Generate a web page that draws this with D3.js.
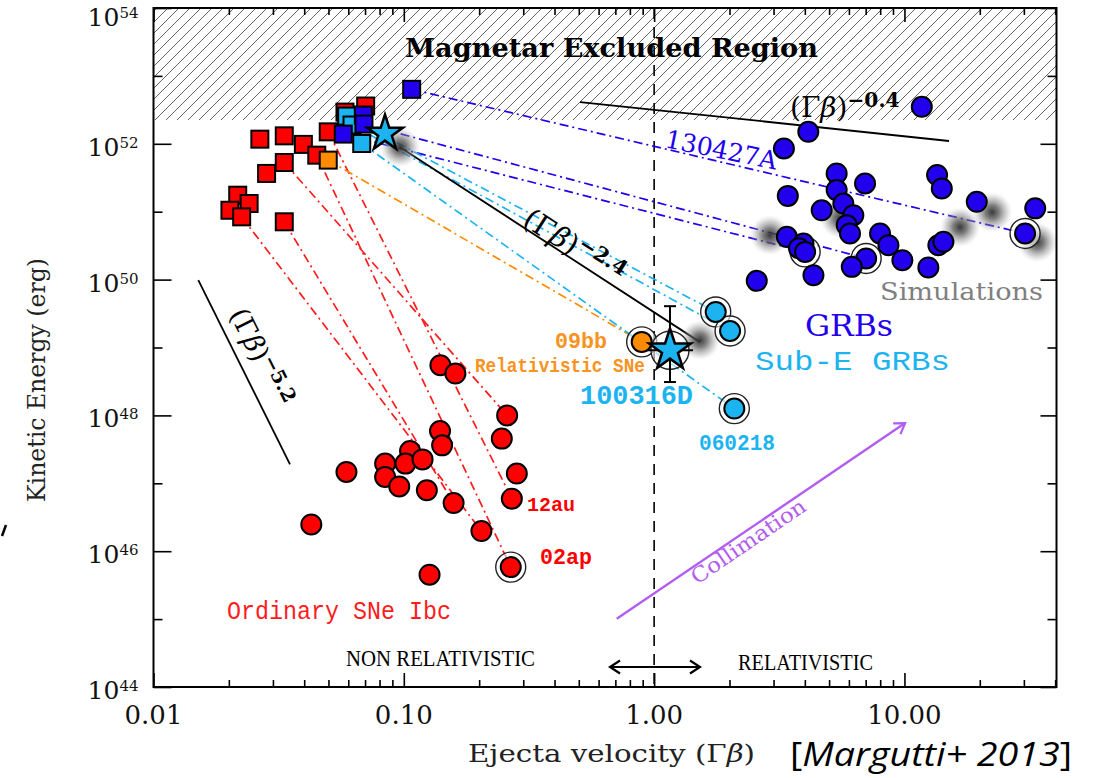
<!DOCTYPE html>
<html>
<head>
<meta charset="utf-8">
<title>Kinetic energy vs ejecta velocity</title>
<script src="https://cdnjs.cloudflare.com/ajax/libs/d3/7.8.5/d3.min.js"></script>
<style>
  html, body { margin: 0; padding: 0; background: #fff; }
  svg { display: block; }
</style>
</head>
<body>
<div id="main"></div>
<script>
//////////
// DATA //
//////////

// ordinary SNe Ibc : bulk ejecta (squares) and fastest ejecta (circles)
const sne_bulk_v = [0.0266, 0.0333, 0.0397, 0.0499, 0.0449, 0.0333, 0.0283, 0.0217, 0.0241, 0.0202, 0.0225, 0.0333, 0.0704, 0.0582]
const sne_bulk_e = [1.17e52, 1.31e52, 9.8e51, 1.50e52, 6.8e51, 5.3e51, 3.66e51, 1.75e51, 1.32e51, 1.05e51, 8.4e50, 7.1e50, 3.6e52, 2.93e52]
const sne_fast_v = [0.140, 0.1607, 0.2587, 0.1395, 0.1422, 0.2463, 0.1059, 0.1015, 0.1188, 0.0842, 0.0842, 0.0590, 0.0959, 0.1236, 0.2828, 0.2701, 0.1581, 0.2042, 0.2674, 0.0427, 0.1267]
const sne_fast_e = [5.48e48, 4.13e48, 1.0e48, 5.89e47, 3.62e47, 4.55e47, 2.99e47, 1.95e47, 2.25e47, 1.95e47, 1.24e47, 1.47e47, 9.0e46, 7.9e46, 1.39e47, 5.94e46, 5.12e46, 1.98e46, 5.83e45, 2.48e46, 4.51e45]
const sne_links  = [[10, 17], [11, 16], [4, 18], [3, 15], [5, 2]]
const sne_ringed = [18]

// relativistic SNe (09bb)
const rel_bulk_v = [0.0499]
const rel_bulk_e = [5.75e51]
const rel_fast_v = [0.892]
const rel_fast_e = [1.21e49]

// GRBs
const grb_bulk_v = [0.1075, 0.0689, 0.0693, 0.0573]
const grb_bulk_e = [6.34e52, 2.65e52, 1.95e52, 1.39e52]
const grb_fast_v = [11.73, 4.13, 3.30, 5.36, 6.96, 13.5, 14.1, 5.36, 3.42, 5.70, 6.25, 4.67, 19.45, 33.3, 5.88, 6.06, 3.39, 3.95, 3.79, 4.01, 7.99, 8.63, 9.81, 7.03, 6.16, 4.33, 2.57, 12.46, 13.66, 14.31, 30.33]
const grb_fast_e = [3.51e52, 1.50e52, 8.55e51, 3.66e51, 2.61e51, 3.46e51, 2.20e51, 2.08e51, 1.71e51, 1.32e51, 8.89e50, 1.05e51, 1.40e51, 1.12e51, 6.34e50, 4.78e50, 4.26e50, 3.40e50, 2.90e50, 2.56e50, 4.78e50, 3.21e50, 1.93e50, 2.05e50, 1.54e50, 1.16e50, 9.58e49, 1.51e50, 3.21e50, 3.60e50, 4.78e50]
const grb_links  = [[0, 30], [3, 19], [2, 23]]
const grb_ringed = [19, 23, 30]

// sub-energetic GRBs
const sub_bulk_v = [0.0591, 0.0621, 0.0679]
const sub_bulk_e = [2.56e52, 1.89e52, 1.01e52]
const sub_fast_v = [1.762, 2.011, 2.091]
const sub_fast_e = [3.34e49, 1.75e49, 1.26e48]
const sub_links  = [[0, 0], [1, 1], [2, 2]]

// 100316D
const star_v = [0.0841, 1.157]
const star_e = [1.42e52, 9.1e48]
const star_err_e = [3.10e48, 4.06e49]
const star_err_v = [0.937, 1.43]

// simulations
const sim_v = [0.0966, 1.525, 2.90, 5.53, 16.68, 22.4, 33.9]
const sim_e = [8.93e51, 1.28e49, 4.51e50, 8.04e50, 5.92e50, 9.84e50, 3.56e50]

// (Γβ)^n guide lines
const guide_index = ["−2.4", "−0.4", "−5.2"]
const guide_v = [[0.0966, 1.525], [0.506, 15.07], [0.0151, 0.0351]]
const guide_e = [[8.93e51, 1.2e49], [4.12e52, 1.1e52], [9.8e49, 1.9e47]]

// magnetar limit
const magnetar_e = 2.24e52

// ticks
const x_tick_labels = ["0.01", "0.10", "1.00", "10.00"]
const y_tick_exp = [44, 46, 48, 50, 52, 54]


///////////
// SETUP //
///////////

const _ = id => { return document.getElementById(id) }

const WIDTH = 1096
const HEIGHT = 778
const PLOT = { left: 153.5, right: 1056.5, top: 8, bottom: 687 }

const SERIF = '"DejaVu Serif", serif'
const MONO  = '"Liberation Mono", monospace'
const TIMES = '"Liberation Serif", serif'

const RED = "#ff0000"
const RED_LINE = "#ff1c1c"
const BLUE = "#2200ee"
const CYAN = "#1cb4f0"
const ORANGE = "#ff8c00"
const ORANGE_TEXT = "#f7931e"
const PURPLE = "#b35df0"

const SQ = 17
const R = 10

const x = d3.scaleLog().domain([0.01, 40.5]).range([PLOT.left, PLOT.right])
const y = d3.scaleLog().domain([1e44, 1e54]).range([PLOT.bottom, PLOT.top])

const svg = d3.select(_("main")).append("svg")
    .attr("width", WIDTH)
    .attr("height", HEIGHT)
    .attr("font-family", SERIF)

const defs = svg.append("defs")

defs.append("pattern")
    .attr("id", "hatch")
    .attr("patternUnits", "userSpaceOnUse")
    .attr("width", 11).attr("height", 11)
  .append("path")
    .attr("d", "M-2,2 L2,-2 M0,11 L11,0 M9,13 L13,9")
    .attr("stroke", "#666")
    .attr("stroke-width", 1)

const grad = defs.append("radialGradient").attr("id", "sim")
;[[0, "#2e2e2e", 0.95], [0.35, "#555", 0.75], [0.7, "#8f8f8f", 0.4], [1, "#bdbdbd", 0]].forEach(s => {
    grad.append("stop").attr("offset", s[0]).attr("stop-color", s[1]).attr("stop-opacity", s[2])
})

make_marker("chev-black", "#000")
make_marker("chev-purple", PURPLE)


//////////
// DRAW //
//////////

// magnetar excluded region
svg.append("rect")
    .attr("x", PLOT.left).attr("y", PLOT.top)
    .attr("width", PLOT.right - PLOT.left)
    .attr("height", y(magnetar_e) - PLOT.top)
    .attr("fill", "url(#hatch)")

// Γβ = 1
svg.append("line")
    .attr("x1", x(1)).attr("x2", x(1))
    .attr("y1", PLOT.top).attr("y2", PLOT.bottom)
    .attr("stroke", "#000").attr("stroke-width", 1.6)
    .attr("stroke-dasharray", "11,8")

const lines = svg.append("g").attr("fill", "none")
draw_links(sne_bulk_v, sne_bulk_e, sne_fast_v, sne_fast_e, sne_links, RED_LINE)
draw_links(rel_bulk_v, rel_bulk_e, rel_fast_v, rel_fast_e, [[0, 0]], ORANGE)
draw_links(grb_bulk_v, grb_bulk_e, grb_fast_v, grb_fast_e, grb_links, BLUE)
draw_links(sub_bulk_v, sub_bulk_e, sub_fast_v, sub_fast_e, sub_links, CYAN)

// guide lines
svg.append("g").selectAll("line")
    .data(guide_index)
    .join("line")
        .attr("x1", (d, i) => x(guide_v[i][0]))
        .attr("y1", (d, i) => y(guide_e[i][0]))
        .attr("x2", (d, i) => x(guide_v[i][1]))
        .attr("y2", (d, i) => y(guide_e[i][1]))
        .attr("stroke", "#000")
        .attr("stroke-width", 1.8)

// simulations
svg.append("g").selectAll("circle")
    .data(d3.zip(sim_v, sim_e))
    .join("circle")
        .attr("cx", d => x(d[0]))
        .attr("cy", d => y(d[1]))
        .attr("r", 20)
        .attr("fill", "url(#sim)")

// rings
draw_rings(sne_fast_v, sne_fast_e, sne_ringed, 15)
draw_rings(rel_fast_v, rel_fast_e, [0], 15)
draw_rings(grb_fast_v, grb_fast_e, grb_ringed, 15)
draw_rings(sub_fast_v, sub_fast_e, [0, 1, 2], 15)
draw_rings(star_v, star_e, [1], 19)

// markers
draw_squares(sne_bulk_v, sne_bulk_e, RED)
draw_squares(rel_bulk_v, rel_bulk_e, ORANGE)
draw_squares(sub_bulk_v, sub_bulk_e, CYAN)
draw_squares(grb_bulk_v, grb_bulk_e, BLUE)
draw_circles(sne_fast_v, sne_fast_e, RED)
draw_circles(grb_fast_v, grb_fast_e, BLUE)
draw_circles(sub_fast_v, sub_fast_e, CYAN)
draw_circles(rel_fast_v, rel_fast_e, ORANGE)

// 100316D error bars + stars
const err = svg.append("g").attr("stroke", "#000").attr("stroke-width", 2)
err.append("line")
    .attr("x1", x(star_v[1])).attr("x2", x(star_v[1]))
    .attr("y1", y(star_err_e[0])).attr("y2", y(star_err_e[1]))
star_err_e.forEach(e => {
    err.append("line")
        .attr("x1", x(star_v[1]) - 6).attr("x2", x(star_v[1]) + 6)
        .attr("y1", y(e)).attr("y2", y(e))
})
err.append("line")
    .attr("x1", x(star_err_v[0])).attr("x2", x(star_err_v[1]))
    .attr("y1", y(star_e[1])).attr("y2", y(star_e[1]))

svg.append("g").selectAll("path")
    .data(d3.zip(star_v, star_e))
    .join("path")
        .attr("transform", d => `translate(${x(d[0])},${y(d[1])})`)
        .attr("d", (d, i) => d3.symbol().type(d3.symbolStar).size(i ? 540 : 400)())
        .attr("fill", CYAN)
        .attr("stroke", "#000")
        .attr("stroke-width", 2.5)
        .attr("stroke-linejoin", "miter")

// arrows
svg.append("line")
    .attr("x1", 610).attr("x2", 700).attr("y1", 667).attr("y2", 667)
    .attr("stroke", "#000").attr("stroke-width", 2.2)
    .attr("marker-start", "url(#chev-black)")
    .attr("marker-end", "url(#chev-black)")

svg.append("line")
    .attr("x1", x(0.709)).attr("y1", y(1.01e45))
    .attr("x2", x(10.06)).attr("y2", y(7.7e47))
    .attr("stroke", PURPLE).attr("stroke-width", 2.4)
    .attr("marker-end", "url(#chev-purple)")

draw_axes()
draw_texts()


///////////////
// FUNCTIONS //
///////////////

function make_marker(id, color){
    defs.append("marker")
        .attr("id", id)
        .attr("viewBox", "-12 -8 14 16")
        .attr("refX", 0).attr("refY", 0)
        .attr("markerWidth", 14).attr("markerHeight", 16)
        .attr("markerUnits", "userSpaceOnUse")
        .attr("orient", "auto-start-reverse")
      .append("path")
        .attr("d", "M-10,-6.5 L0,0 L-10,6.5")
        .attr("fill", "none")
        .attr("stroke", color)
        .attr("stroke-width", 2.2)
}

function draw_links(v0, e0, v1, e1, pairs, color){
    lines.append("g").selectAll("line")
        .data(pairs)
        .join("line")
            .attr("x1", p => x(v0[p[0]]))
            .attr("y1", p => y(e0[p[0]]))
            .attr("x2", p => x(v1[p[1]]))
            .attr("y2", p => y(e1[p[1]]))
            .attr("stroke", color)
            .attr("stroke-width", 1.7)
            .attr("stroke-dasharray", "9,4,2,4")
}

function draw_rings(vs, es, idx, r){
    svg.append("g").selectAll("circle")
        .data(idx)
        .join("circle")
            .attr("cx", i => x(vs[i]))
            .attr("cy", i => y(es[i]))
            .attr("r", r)
            .attr("fill", "#fff")
            .attr("fill-opacity", 0.6)
            .attr("stroke", "#222")
            .attr("stroke-width", 1.4)
}

function draw_squares(vs, es, color){
    svg.append("g").selectAll("rect")
        .data(d3.zip(vs, es))
        .join("rect")
            .attr("x", d => x(d[0]) - SQ / 2)
            .attr("y", d => y(d[1]) - SQ / 2)
            .attr("width", SQ).attr("height", SQ)
            .attr("fill", color)
            .attr("stroke", "#000")
            .attr("stroke-width", 2)
}

function draw_circles(vs, es, color){
    svg.append("g").selectAll("circle")
        .data(d3.zip(vs, es))
        .join("circle")
            .attr("cx", d => x(d[0]))
            .attr("cy", d => y(d[1]))
            .attr("r", R)
            .attr("fill", color)
            .attr("stroke", "#000")
            .attr("stroke-width", 2)
}

function is_decade(t){
    const l = Math.log10(t)
    return Math.abs(l - Math.round(l)) < 1e-9
}

function tick_axis(axis, transform, values, size){
    svg.append("g")
        .attr("transform", transform)
        .call(axis.tickValues(values).tickSize(-size).tickFormat(""))
        .call(g => g.select(".domain").remove())
        .call(g => g.selectAll("line").attr("stroke", "#000").attr("stroke-width", 1.6))
}

function draw_axes(){
    const x_all = x.ticks()
    const x_major = x_all.filter(is_decade)
    const x_minor = x_all.filter(t => !is_decade(t))
    const y_all = y.ticks()
    const y_major = y_all.filter(t => Math.round(Math.log10(t)) % 2 === 0)
    const y_minor = y_all.filter(t => Math.round(Math.log10(t)) % 2 !== 0)

    tick_axis(d3.axisBottom(x), `translate(0,${PLOT.bottom})`, x_major, 14)
    tick_axis(d3.axisBottom(x), `translate(0,${PLOT.bottom})`, x_minor, 7)
    tick_axis(d3.axisTop(x), `translate(0,${PLOT.top})`, x_major, 14)
    tick_axis(d3.axisTop(x), `translate(0,${PLOT.top})`, x_minor, 7)
    tick_axis(d3.axisLeft(y), `translate(${PLOT.left},0)`, y_major, 18)
    tick_axis(d3.axisLeft(y), `translate(${PLOT.left},0)`, y_minor, 9)
    tick_axis(d3.axisRight(y), `translate(${PLOT.right},0)`, y_major, 16)
    tick_axis(d3.axisRight(y), `translate(${PLOT.right},0)`, y_minor, 9)

    // frame
    svg.append("rect")
        .attr("x", PLOT.left).attr("y", PLOT.top)
        .attr("width", PLOT.right - PLOT.left)
        .attr("height", PLOT.bottom - PLOT.top)
        .attr("fill", "none")
        .attr("stroke", "#000")
        .attr("stroke-width", 2)

    // x labels
    svg.append("g").selectAll("text")
        .data(x_major)
        .join("text")
            .attr("x", d => x(d))
            .attr("y", 724)
            .attr("text-anchor", "middle")
            .attr("font-size", 26)
            .attr("fill", "#111")
            .text((d, i) => x_tick_labels[i])

    // y labels (top one kept inside the page)
    svg.append("g").selectAll("text")
        .data(y_tick_exp)
        .join("text")
            .attr("x", PLOT.left - 15)
            .attr("y", d => Math.max(y(Math.pow(10, d)) + 12, 26))
            .attr("text-anchor", "end")
            .attr("font-size", 25)
            .attr("fill", "#111")
            .each(function(d){
                const t = d3.select(this)
                t.append("tspan").text("10")
                t.append("tspan").attr("dy", -8).attr("font-size", 15).text(d)
            })
}

function gamma_beta(t, size, exp){
    t.append("tspan").text("(Γ")
    t.append("tspan").attr("font-style", "italic").text("β")
    t.append("tspan").text(")")
    t.append("tspan")
        .attr("dy", -size * 0.36)
        .attr("font-size", size * 0.72)
        .attr("font-weight", "bold")
        .text(exp)
}

function label(txt, px, py, opts){
    const t = svg.append("text")
        .attr("x", px).attr("y", py)
        .attr("font-size", opts.size)
        .attr("fill", opts.color || "#000")
        .text(txt)
    if (opts.family) t.attr("font-family", opts.family)
    if (opts.weight) t.attr("font-weight", opts.weight)
    if (opts.length) t.attr("textLength", opts.length).attr("lengthAdjust", "spacingAndGlyphs")
    if (opts.rotate) t.attr("transform", `rotate(${opts.rotate},${px},${py})`)
    if (opts.anchor) t.attr("text-anchor", opts.anchor)
    return t
}

function draw_texts(){
    label("Magnetar Excluded Region", 405, 57, { size: 26, weight: "bold", length: 413 })

    // guide labels
    const g_pos = [[521, 224, 32.8, 29], [790, 117, 0, 28], [229, 314, 63.4, 27]]
    guide_index.forEach((exp, i) => {
        const [px, py, rot, size] = g_pos[i]
        const t = svg.append("text")
            .attr("x", px).attr("y", py)
            .attr("font-size", size)
            .attr("transform", `rotate(${rot},${px},${py})`)
        gamma_beta(t, size, exp)
    })

    label("130427A", 664, 147, { size: 25, color: BLUE, rotate: 11.5 })
    label("Simulations", 880, 300, { size: 24, color: "#7f7f7f", length: 163 })
    label("GRBs", 805, 336, { size: 30, color: BLUE, length: 88 })
    label("Sub-E GRBs", 755, 370, { size: 27, color: CYAN, family: MONO, length: 195 })
    label("09bb", 555, 348, { size: 22, color: ORANGE_TEXT, family: MONO, weight: "bold", length: 52 })
    label("Relativistic SNe", 475, 372, { size: 21, color: ORANGE_TEXT, family: MONO, weight: "bold", length: 170 })
    label("100316D", 580, 404, { size: 27, color: CYAN, family: MONO, weight: "bold", length: 113 })
    label("060218", 699, 450, { size: 22, color: CYAN, family: MONO, weight: "bold", length: 76 })
    label("12au", 527, 511, { size: 21, color: RED, family: MONO, weight: "bold", length: 48 })
    label("02ap", 540, 564, { size: 22, color: RED, family: MONO, weight: "bold", length: 52 })
    label("Ordinary SNe Ibc", 227, 619, { size: 26, color: RED_LINE, family: MONO, length: 224 })
    label("NON RELATIVISTIC", 346, 666, { size: 23, family: TIMES, length: 189 })
    label("RELATIVISTIC", 738, 670, { size: 23, family: TIMES, length: 135 })
    label("Collimation", 697, 585, { size: 21, color: PURPLE, rotate: -34.2, length: 134 })

    // axis titles
    label("Kinetic Energy (erg)", 45, 380, { size: 24, color: "#222", rotate: -90, anchor: "middle", length: 244 })
    const xt = svg.append("text")
        .attr("x", 468).attr("y", 762)
        .attr("font-size", 24).attr("fill", "#222")
        .attr("textLength", 287).attr("lengthAdjust", "spacingAndGlyphs")
    xt.append("tspan").text("Ejecta velocity (Γ")
    xt.append("tspan").attr("font-style", "italic").text("β")
    xt.append("tspan").text(")")

    const cite = svg.append("text")
        .attr("x", 790).attr("y", 766)
        .attr("font-size", 32)
        .attr("font-family", '"Open Sans", "Liberation Sans", sans-serif')
        .attr("textLength", 282).attr("lengthAdjust", "spacingAndGlyphs")
    cite.append("tspan").text("[")
    cite.append("tspan").attr("font-style", "italic").text("Margutti+ 2013")
    cite.append("tspan").text("]")

    // stray mark at the left edge
    svg.append("line")
        .attr("x1", 2).attr("y1", 536).attr("x2", 6).attr("y2", 525)
        .attr("stroke", "#000").attr("stroke-width", 2.5)
}
</script>
</body>
</html>
